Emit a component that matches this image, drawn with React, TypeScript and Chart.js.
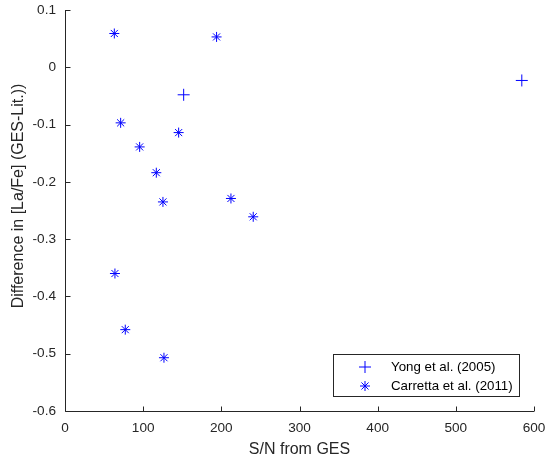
import React, { useEffect, useRef } from "react";
import { Chart, registerables, Plugin } from "chart.js";

Chart.register(...registerables);

// Yong et al. (2005): S/N from GES vs [La/Fe] difference
const yongSN = [151.8, 584.4];
const yongDiff = [-0.048, -0.023];

// Carretta et al. (2011)
const carrettaSN = [63.1, 193.9, 71.2, 95.5, 116.8, 125.3, 145.4, 212.3, 240.8, 63.9, 77.1, 126.6];
const carrettaDiff = [0.059, 0.053, -0.097, -0.139, -0.184, -0.235, -0.114, -0.229, -0.261, -0.36, -0.458, -0.507];

const xTicks = [0, 100, 200, 300, 400, 500, 600];
const yTicks = [-0.6, -0.5, -0.4, -0.3, -0.2, -0.1, 0, 0.1];

const xTitle = "S/N from GES";
const yTitle = "Difference in [La/Fe] (GES-Lit.))";
const legendLabels = ["Yong et al. (2005)", "Carretta et al. (2011)"];

const FONT = "'Liberation Sans', Arial, Helvetica, sans-serif";
const AXIS_COLOR = "#262626";
const BLUE = "#0000ff";

const toPoints = (xs: number[], ys: number[]) => xs.map((x, i) => ({ x, y: ys[i] }));

// Plus / asterisk glyphs for the legend keys
function drawKey(ctx: CanvasRenderingContext2D, style: string, r: number, x: number, y: number) {
  ctx.beginPath();
  ctx.moveTo(x - r, y);
  ctx.lineTo(x + r, y);
  ctx.moveTo(x, y - r);
  ctx.lineTo(x, y + r);
  if (style === "star") {
    const d = r * Math.SQRT1_2;
    ctx.moveTo(x - d, y - d);
    ctx.lineTo(x + d, y + d);
    ctx.moveTo(x - d, y + d);
    ctx.lineTo(x + d, y - d);
  }
  ctx.stroke();
}

// Axis lines with inward ticks, axis titles and the boxed legend
const decorations: Plugin<"scatter"> = {
  id: "decorations",
  afterDraw(chart) {
    const { ctx, chartArea } = chart;
    const xs = chart.scales.x;
    const ys = chart.scales.y;
    ctx.save();
    ctx.strokeStyle = AXIS_COLOR;
    ctx.lineWidth = 1;
    ctx.beginPath();
    const left = Math.round(chartArea.left) + 0.5;
    const bottom = Math.round(chartArea.bottom) + 0.5;
    ctx.moveTo(left, chartArea.top);
    ctx.lineTo(left, bottom);
    ctx.lineTo(chartArea.right, bottom);
    for (const v of xTicks) {
      const px = Math.round(xs.getPixelForValue(v)) + 0.5;
      ctx.moveTo(px, bottom);
      ctx.lineTo(px, bottom - 5);
    }
    for (const v of yTicks) {
      const py = Math.round(ys.getPixelForValue(v)) + 0.5;
      ctx.moveTo(left, py);
      ctx.lineTo(left + 5, py);
    }
    ctx.stroke();

    // axis titles
    ctx.fillStyle = AXIS_COLOR;
    ctx.font = `16px ${FONT}`;
    ctx.textAlign = "center";
    ctx.textBaseline = "middle";
    ctx.fillText(xTitle, (chartArea.left + chartArea.right) / 2, 450);
    ctx.save();
    ctx.translate(19, 196);
    ctx.rotate(-Math.PI / 2);
    ctx.fillText(yTitle, 0, 0);
    ctx.restore();

    // legend box
    const bx = 333.5, by = 354.5, bw = 186, bh = 42;
    ctx.fillStyle = "#ffffff";
    ctx.fillRect(bx, by, bw, bh);
    ctx.strokeStyle = "#262626";
    ctx.strokeRect(bx, by, bw, bh);
    ctx.font = `13.3px ${FONT}`;
    ctx.textAlign = "left";
    const rows = [367, 386];
    chart.data.datasets.forEach((ds: any, i: number) => {
      ctx.strokeStyle = BLUE;
      ctx.lineWidth = 1;
      drawKey(ctx, ds.pointStyle, ds.pointRadius, 365, rows[i]);
      ctx.fillStyle = "#000000";
      ctx.fillText(legendLabels[i], 391, rows[i] + 0.5);
    });
    ctx.restore();
  },
};

export default function App() {
  const canvasRef = useRef<HTMLCanvasElement | null>(null);

  useEffect(() => {
    const canvas = canvasRef.current;
    if (!canvas) return;
    const chart = new Chart(canvas, {
      type: "scatter",
      data: {
        datasets: [
          {
            label: legendLabels[0],
            data: toPoints(yongSN, yongDiff),
            pointStyle: "cross",
            pointRadius: 6,
            pointHoverRadius: 6,
            borderColor: BLUE,
            backgroundColor: BLUE,
            borderWidth: 1,
          },
          {
            label: legendLabels[1],
            data: toPoints(carrettaSN, carrettaDiff),
            pointStyle: "star",
            pointRadius: 5,
            pointHoverRadius: 5,
            borderColor: BLUE,
            backgroundColor: BLUE,
            borderWidth: 1,
          },
        ],
      },
      options: {
        responsive: false,
        animation: false,
        events: [],
        layout: { padding: { left: 0, right: 13, top: 10, bottom: 0 } },
        plugins: {
          legend: { display: false },
          tooltip: { enabled: false },
        },
        scales: {
          x: {
            type: "linear",
            min: 0,
            max: 600,
            afterBuildTicks: (s: any) => {
              s.ticks = xTicks.map((v) => ({ value: v }));
            },
            afterFit: (s: any) => {
              s.height = 57;
              s.paddingLeft = 0;
              s.paddingRight = 0;
              s.paddingTop = 0;
              s.paddingBottom = 0;
            },
            grid: { display: false, drawTicks: false },
            border: { display: false },
            ticks: {
              padding: 9,
              color: AXIS_COLOR,
              font: { family: FONT, size: 13.6 },
              maxRotation: 0,
              callback: (v: any) => String(v),
            },
          },
          y: {
            type: "linear",
            min: -0.6,
            max: 0.1,
            afterBuildTicks: (s: any) => {
              s.ticks = yTicks.map((v) => ({ value: v }));
            },
            afterFit: (s: any) => {
              s.width = 65;
              s.paddingLeft = 0;
              s.paddingRight = 0;
              s.paddingTop = 0;
              s.paddingBottom = 0;
            },
            grid: { display: false, drawTicks: false },
            border: { display: false },
            ticks: {
              padding: 9,
              color: AXIS_COLOR,
              font: { family: FONT, size: 13.6 },
              callback: (v: any) => String(Math.round(v * 10) / 10),
            },
          },
        },
      },
      plugins: [decorations],
    });
    return () => chart.destroy();
  }, []);

  return (
    <div style={{ position: "fixed", left: 0, top: 0, width: 547, height: 468, background: "#fff" }}>
      <canvas ref={canvasRef} width={547} height={468} style={{ width: 547, height: 468 }} />
    </div>
  );
}
